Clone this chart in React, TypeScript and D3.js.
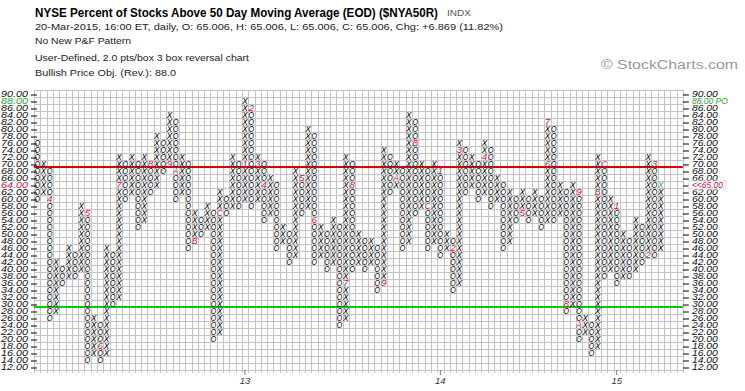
import React from 'react';
import * as d3 from 'd3';

// point & figure columns, first column is O, then they alternate
const colLows = [
  60, 62, 26, 28, 36, 38, 38, 40, 14, 16, 14, 16, 30, 32, 60, 62, 52, 54, 62, 64,
  68, 70, 60, 62, 46, 48, 50, 52, 20, 22, 56, 58, 58, 60, 58, 60, 54, 56, 46, 48,
  42, 44, 56, 58, 42, 44, 40, 42, 24, 26, 40, 42, 40, 42, 34, 36, 62, 64, 46, 48,
  56, 58, 46, 48, 44, 46, 34, 36, 62, 64, 60, 62, 58, 60, 46, 48, 54, 56, 54, 56,
  52, 54, 54, 56, 28, 30, 20, 22, 16, 18, 38, 40, 36, 38, 38, 40, 42, 44, 44, 46,
];
const colHighs = [
  76, 70, 68, 42, 40, 46, 44, 58, 56, 26, 24, 46, 44, 72, 70, 72, 70, 72, 70, 78,
  76, 84, 82, 72, 70, 56, 54, 58, 56, 62, 60, 72, 70, 88, 86, 72, 70, 66, 64, 52,
  50, 68, 66, 80, 78, 52, 50, 54, 52, 72, 70, 50, 48, 48, 46, 74, 72, 70, 68, 84,
  82, 70, 68, 70, 68, 50, 48, 76, 74, 72, 70, 76, 74, 66, 64, 62, 60, 62, 60, 62,
  60, 82, 80, 64, 62, 64, 62, 26, 24, 72, 70, 60, 58, 50, 48, 54, 52, 72, 70, 64,
];

// month markers (column, box, label)
const monthCols = [2, 8, 10, 13, 18, 21, 22, 25, 29, 33, 34, 35, 36, 42, 44, 49, 50, 55, 57, 60, 62, 64, 66, 67, 71, 77, 81, 81, 84, 86, 86, 89, 90, 92, 97, 98];
const monthBoxes = [60, 56, 18, 64, 70, 70, 68, 48, 56, 70, 86, 70, 64, 66, 54, 36, 64, 36, 66, 76, 58, 68, 46, 74, 72, 56, 70, 82, 30, 62, 24, 62, 70, 58, 44, 70];
const monthLabels = ['4', '5', '6', '7', '8', '9', 'A', 'B', 'C', '1', '2', '3', '4', '5', '6', '7', '8', '9', 'A', 'B', 'C', '1', '2', '3', '4', '5', '6', '7', '8', '9', 'A', 'B', 'C', '1', '2', '3'];

const priceTicks = [90, 88, 86, 84, 82, 80, 78, 76, 74, 72, 70, 68, 66, 64, 62, 60, 58, 56, 54, 52, 50, 48, 46, 44, 42, 40, 38, 36, 34, 32, 30, 28, 26, 24, 22, 20, 18, 16, 14, 12];
const yearLabels = ['13', '14', '15'];
const yearCols = [33, 64, 92];

const resistanceLevel = 69;
const supportLevel = 29;
const priceObjective = 88;
const lastBox = 64;
const lastClose = '65.00';

const font = "'Liberation Sans', Arial, Helvetica, sans-serif";
const markColor = '#cc1144';

export default function App() {
  const nCols = 103;
  const x = d3.scaleLinear().domain([0, nCols]).range([34, 34 + 6.3 * nCols]);
  const y = d3.scaleLinear().domain([11, 91]).range([370, 90]);
  const gx0 = x(0), gx1 = x(nCols), gy0 = y(91), gy1 = y(11);

  const marks = new Map<string, string>();
  monthCols.forEach((c, i) => marks.set(`${c}_${monthBoxes[i]}`, monthLabels[i]));

  const boxes: { c: number; v: number; t: string; color: string }[] = [];
  colLows.forEach((lo, c) => {
    const kind = c % 2 === 0 ? 'O' : 'X';
    for (let v = lo; v <= colHighs[c]; v += 2) {
      const m = marks.get(`${c}_${v}`);
      const isLast = c === colLows.length - 1 && v === lastBox;
      boxes.push({ c, v, t: m ?? kind, color: m ? markColor : isLast ? '#22bb22' : '#000' });
    }
  });

  const vLines = d3.range(nCols + 1);
  const hLines = d3.range(11, 92, 2);

  return (
    <svg width={745} height={391} style={{ position: 'absolute', left: 0, top: 0, background: '#fff' }} fontFamily={font}>
      <rect width={745} height={391} fill="#fff" />
      {/* header */}
      <text x={35} y={16.5} fontSize={12} fontWeight="bold" fill="#000" textLength={403} lengthAdjust="spacingAndGlyphs">
        NYSE Percent of Stocks Above 50 Day Moving Average (EOD) ($NYA50R)
      </text>
      <text x={447} y={16} fontSize={8.5} fill="#555" textLength={24} lengthAdjust="spacingAndGlyphs">INDX</text>
      <text x={35} y={30} fontSize={9} fill="#222" textLength={468} lengthAdjust="spacingAndGlyphs">
        20-Mar-2015, 16:00 ET, daily, O: 65.006, H: 65.006, L: 65.006, C: 65.006, Chg: +6.869 (11.82%)
      </text>
      <text x={35} y={44} fontSize={9} fill="#222" textLength={96} lengthAdjust="spacingAndGlyphs">No New P&amp;F Pattern</text>
      <text x={35} y={61} fontSize={9} fill="#222" textLength={214} lengthAdjust="spacingAndGlyphs">
        User-Defined, 2.0 pts/box 3 box reversal chart
      </text>
      <text x={35} y={76} fontSize={9} fill="#222" textLength={141} lengthAdjust="spacingAndGlyphs">
        Bullish Price Obj. (Rev.): 88.0
      </text>
      <text x={601} y={68.5} fontSize={12} fill="#999" textLength={137} lengthAdjust="spacingAndGlyphs">
        © StockCharts.com
      </text>

      {/* grid */}
      <g stroke="#c4c4c4" strokeWidth={1} shapeRendering="crispEdges">
        {vLines.map((c) => (
          <line key={`v${c}`} x1={Math.round(x(c)) + 0.5} x2={Math.round(x(c)) + 0.5} y1={gy0} y2={gy1 + 3} />
        ))}
        {hLines.map((b) => (
          <line key={`h${b}`} x1={gx0} x2={gx1} y1={Math.round(y(b)) + 0.5} y2={Math.round(y(b)) + 0.5} />
        ))}
      </g>

      {/* price labels and ticks */}
      <g fontStyle="italic" fontSize={8.6}>
        {priceTicks.map((v) => {
          const col = v === priceObjective ? '#22aa22' : v === lastBox ? markColor : '#111';
          return (
            <g key={`p${v}`}>
              <line x1={31} x2={37} y1={y(v) + 1.5} y2={y(v) + 1.5} stroke="#000" />
              <line x1={gx1} x2={gx1 + 6} y1={y(v) + 1.5} y2={y(v) + 1.5} stroke="#000" />
              <text x={1} y={y(v) + 3.2} fill={col} textLength={27} lengthAdjust="spacingAndGlyphs">{v.toFixed(2)}</text>
              {v !== lastBox && (
                <text x={gx1 + 9} y={y(v) + 3.2} fill={v === priceObjective ? '#22aa22' : '#111'} textLength={v === priceObjective ? 36 : 26} lengthAdjust="spacingAndGlyphs">
                  {v === priceObjective ? `${v.toFixed(2)} PO` : v.toFixed(2)}
                </text>
              )}
            </g>
          );
        })}
        <rect x={gx1 + 6} y={y(lastBox) - 3.5} width={37} height={8} fill="#fff" stroke="#ddd" />
        <text x={gx1 + 9} y={y(lastBox) + 3.2} fill={markColor} textLength={31} lengthAdjust="spacingAndGlyphs">{`<<${lastClose}`}</text>
      </g>

      {/* support / resistance */}
      <line x1={gx0} x2={gx1} y1={y(resistanceLevel)} y2={y(resistanceLevel)} stroke="#dd0000" strokeWidth={2} />
      <line x1={gx0} x2={gx1} y1={y(supportLevel)} y2={y(supportLevel)} stroke="#00cc00" strokeWidth={2} />

      {/* boxes */}
      <g fontStyle="italic" fontSize={8.7}>
        {boxes.map((b, i) => (
          <text key={i} x={x(b.c) + 0.4} y={y(b.v - 1) - 0.4} fill={b.color} textLength={5.5} lengthAdjust="spacingAndGlyphs">{b.t}</text>
        ))}
      </g>

      {/* x axis */}
      <g fontStyle="italic" fontSize={9.5} fill="#333">
        {yearCols.map((c, i) => (
          <g key={`y${i}`}>
            <line x1={x(c + 0.5)} x2={x(c + 0.5)} y1={gy1} y2={gy1 + 5} stroke="#777" />
            <text x={x(c + 0.5)} y={384} textAnchor="middle">{yearLabels[i]}</text>
          </g>
        ))}
      </g>
    </svg>
  );
}
